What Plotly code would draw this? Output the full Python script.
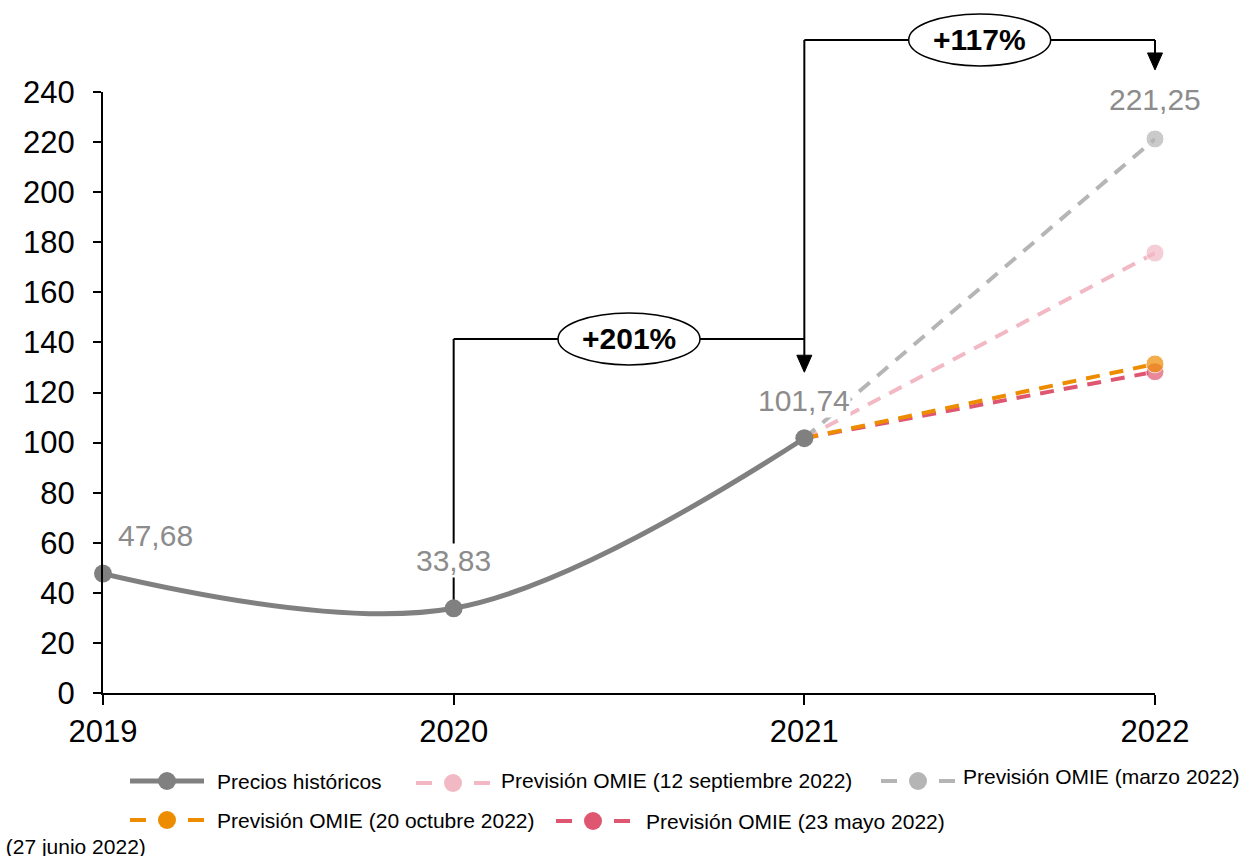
import plotly.graph_objects as go

# ---- data -------------------------------------------------------------
hist_years = [2019, 2020, 2021]
hist_values = [47.68, 33.83, 101.74]
hist_labels = ["47,68", "33,83", "101,74"]

forecast_names = [
    "Previsión OMIE (12 septiembre 2022)",
    "Previsión OMIE (marzo 2022)",
    "Previsión OMIE (23 mayo 2022)",
    "Previsión OMIE (20 octubre 2022)",
]
forecast_2022 = [175.7, 221.25, 128.3, 131.4]
forecast_colors = ["#F2B9C5", "#B5B5B5", "#DF5670", "#EE8C00"]

hist_color = "#808080"
label_color = "#8C8C8C"
FONT = "Liberation Sans, Arial, sans-serif"

W, H = 1242, 856
L, R, T, B = 103, 87, 92, 163
PW, PH = W - L - R, H - T - B
YMAX = 240


def px_x(p):
    return (p - L) / PW


def px_y(p):
    return (H - B - p) / PH


def val_y(v):
    return v / YMAX


def year_x(yr):
    return (yr - 2019) / 3


fig = go.Figure()

# forecast lines from the last historical point to 2022
for name, v, c in zip(forecast_names, forecast_2022, forecast_colors):
    fig.add_trace(go.Scatter(
        x=[hist_years[-1], 2022], y=[hist_values[-1], v],
        mode="lines+markers", name=name,
        line=dict(color=c, width=4, dash="14px,10px"),
        marker=dict(size=[0, 18], color=c),
        cliponaxis=False, showlegend=False,
    ))

# historical prices
fig.add_trace(go.Scatter(
    x=hist_years, y=hist_values, mode="lines+markers", name="Precios históricos",
    line=dict(color=hist_color, width=5, shape="spline", smoothing=1.0),
    marker=dict(size=18, color=hist_color),
    cliponaxis=False, showlegend=False,
))

annotations = []
shapes = []

# value labels
label_shift = {2019: (14, 38, "left"), 2020: (0, 48, "center"), 2021: (0, 38, "center")}
for x, v, t in zip(hist_years, hist_values, hist_labels):
    dx, dy, anc = label_shift[x]
    annotations.append(dict(
        x=x, y=v, xref="x", yref="y", text=t, showarrow=False,
        xanchor=anc, yanchor="middle", xshift=dx, yshift=dy,
        font=dict(family=FONT, size=30, color=label_color),
        bgcolor="white", borderpad=0,
    ))
peak = max(forecast_2022)
annotations.append(dict(
    x=2022, y=peak, xref="x", yref="y", text=f"{peak:.2f}".replace(".", ","),
    showarrow=False, xanchor="center", yanchor="middle", yshift=39,
    font=dict(family=FONT, size=30, color=label_color), bgcolor="white", borderpad=0,
))

# growth brackets
low_level, high_level = 141.4, 260.8
line_style = dict(color="black", width=2)
shapes += [
    dict(type="line", xref="paper", yref="paper", x0=year_x(2020), x1=year_x(2020),
         y0=val_y(low_level), y1=val_y(hist_values[1]) + 8 / PH, line=line_style, layer="below"),
    dict(type="line", xref="paper", yref="paper", x0=year_x(2020), x1=year_x(2021),
         y0=val_y(low_level), y1=val_y(low_level), line=line_style),
    dict(type="line", xref="paper", yref="paper", x0=year_x(2021), x1=year_x(2021),
         y0=val_y(high_level), y1=val_y(hist_values[2]) + 83 / PH, line=line_style),
    dict(type="line", xref="paper", yref="paper", x0=year_x(2021), x1=year_x(2022),
         y0=val_y(high_level), y1=val_y(high_level), line=line_style),
    dict(type="line", xref="paper", yref="paper", x0=year_x(2022), x1=year_x(2022),
         y0=val_y(high_level), y1=val_y(peak) + 84 / PH, line=line_style),
]


def arrow_head(xa, tip_y):
    top = tip_y + 17 / PH
    return dict(type="path", xref="paper", yref="paper", xsizemode="pixel", xanchor=xa,
                path=f"M -7.5,{top} L 7.5,{top} L 0,{tip_y} Z",
                fillcolor="black", line=dict(color="black", width=1))


shapes.append(arrow_head(year_x(2021), val_y(hist_values[2]) + 66 / PH))
shapes.append(arrow_head(year_x(2022), val_y(peak) + 69 / PH))

pct_a = round((hist_values[2] / hist_values[1] - 1) * 100)
pct_b = round((peak / hist_values[2] - 1) * 100)
for xc, lvl, txt in [(2020.5, low_level, f"+{pct_a}%"), (2021.5, high_level, f"+{pct_b}%")]:
    shapes.append(dict(type="circle", xref="paper", yref="paper", xsizemode="pixel", ysizemode="pixel",
                       xanchor=year_x(xc), yanchor=val_y(lvl), x0=-71, x1=71, y0=-26, y1=26,
                       fillcolor="white", line=dict(color="black", width=1.5)))
    annotations.append(dict(x=year_x(xc), y=val_y(lvl), xref="paper", yref="paper",
                            text=f"<b>{txt}</b>", showarrow=False, xanchor="center",
                            yanchor="middle", font=dict(family=FONT, size=30, color="black")))

# legend drawn by hand
legend_items = [
    # name, color, dashed, symbol left px, text left px, row y px, text y px
    ("Precios históricos", hist_color, False, 130, 215, 781, 781),
    (forecast_names[0], forecast_colors[0], True, 416, 499, 783, 780),
    (forecast_names[1], forecast_colors[1], True, 881, 961, 781, 777),
    (forecast_names[3], forecast_colors[3], True, 130, 215, 820, 820),
    (forecast_names[2], forecast_colors[2], True, 556, 644, 821, 821),
]
for name, c, dashed, sx, tx, sy, ty in legend_items:
    sw = 74
    if dashed:
        segs = [(sx, sx + 16), (sx + sw - 16, sx + sw)]
        lw = 4
    else:
        segs = [(sx, sx + sw)]
        lw = 5
    for a, b in segs:
        shapes.append(dict(type="line", xref="paper", yref="paper", x0=px_x(a), x1=px_x(b),
                           y0=px_y(sy), y1=px_y(sy), line=dict(color=c, width=lw)))
    shapes.append(dict(type="circle", xref="paper", yref="paper", xsizemode="pixel", ysizemode="pixel",
                       xanchor=px_x(sx + sw / 2), yanchor=px_y(sy), x0=-9, x1=9, y0=-9, y1=9,
                       fillcolor=c, line=dict(width=0)))
    annotations.append(dict(x=px_x(tx), y=px_y(ty), xref="paper", yref="paper", text=name,
                            showarrow=False, xanchor="left", yanchor="middle",
                            font=dict(family=FONT, size=21, color="black")))

annotations.append(dict(x=px_x(148), y=px_y(846), xref="paper", yref="paper",
                        text="Previsión OMIE (27 junio 2022)", showarrow=False,
                        xanchor="right", yanchor="middle",
                        font=dict(family=FONT, size=21, color="black")))

fig.update_layout(
    width=W, height=H,
    margin=dict(l=L, r=R, t=T, b=B, autoexpand=False),
    paper_bgcolor="white", plot_bgcolor="white",
    showlegend=False,
    font=dict(family=FONT, color="black"),
    shapes=shapes, annotations=annotations,
    xaxis=dict(range=[2019, 2022], tickvals=[2019, 2020, 2021, 2022],
               ticktext=["2019", "2020", "2021", "2022"],
               showgrid=False, zeroline=False, showline=True, linecolor="black", linewidth=2,
               ticks="outside", ticklen=10, tickwidth=2, tickcolor="black",
               tickfont=dict(family=FONT, size=31, color="black"), ticklabelstandoff=0),
    yaxis=dict(range=[0, YMAX], dtick=20, showgrid=False, zeroline=False,
               showline=True, linecolor="black", linewidth=2,
               ticks="outside", ticklen=8, tickwidth=2, tickcolor="black",
               tickfont=dict(family=FONT, size=31, color="black"), ticklabelstandoff=12),
)

fig.write_html("out.html")
